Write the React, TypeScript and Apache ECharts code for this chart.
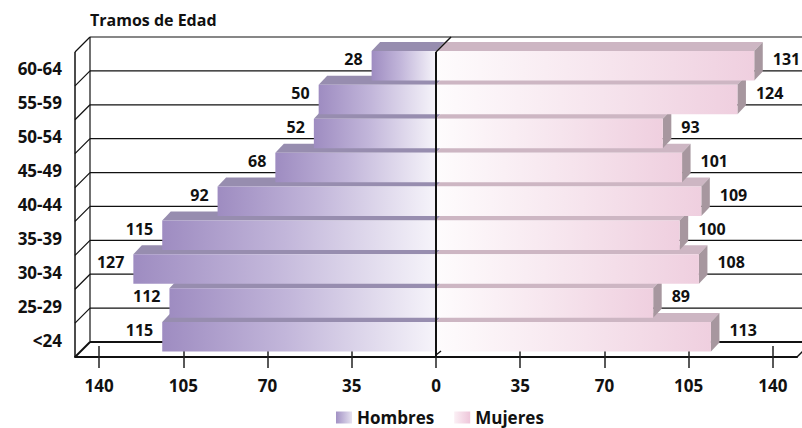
import React, { useEffect, useRef } from "react";
import * as echarts from "echarts";

const categories = ["<24", "25-29", "30-34", "35-39", "40-44", "45-49", "50-54", "55-59", "60-64"];
const hombres = [115, 112, 127, 115, 92, 68, 52, 50, 28];
const mujeres = [113, 89, 108, 100, 109, 101, 93, 124, 131];
const tickValues = [-140, -105, -70, -35, 0, 35, 70, 105, 140];
const axisMin = -150;
const axisMax = 150;

const FONT = "'Open Sans', 'DejaVu Sans', sans-serif";
const WALL = 15; // depth of chart walls (px)
const BDX = 8.5; // bar depth x
const BDY = 9; // bar depth y

function barRender(side: "m" | "f") {
  return (params: any, api: any) => {
    const idx = api.value(0);
    const v = api.value(1);
    const signed = side === "m" ? -v : v;
    const p0 = api.coord([0, idx]);
    const p1 = api.coord([signed, idx]);
    const bw = api.size([0, 1])[1];
    const cy = p0[1];
    const faceTop = cy - bw * 0.53;
    const faceBot = cy + bw * 0.34;
    const xIn = p0[0];
    const xOut = p1[0] + 3;
    const left = Math.min(xIn, xOut);
    const right = Math.max(xIn, xOut);
    const children: any[] = [];
    const frontGrad =
      side === "m"
        ? new echarts.graphic.LinearGradient(0, 0, 1, 0, [
            { offset: 0, color: "#9e8cc1" },
            { offset: 0.45, color: "#c2b6da" },
            { offset: 1, color: "#f6f4fa" },
          ])
        : new echarts.graphic.LinearGradient(0, 0, 1, 0, [
            { offset: 0, color: "#fefcfd" },
            { offset: 0.55, color: "#f6e4ed" },
            { offset: 1, color: "#efcfdf" },
          ]);
    children.push({
      type: "polygon",
      shape: {
        points: [
          [left, faceTop],
          [left + BDX, faceTop - BDY],
          [right + BDX, faceTop - BDY],
          [right, faceTop],
        ],
      },
      style: { fill: side === "m" ? "#978daf" : "#cdb6c3" },
    });
    if (side === "f") {
      children.push({
        type: "polygon",
        shape: {
          points: [
            [right, faceTop],
            [right + BDX, faceTop - BDY],
            [right + BDX, faceBot - BDY],
            [right, faceBot],
          ],
        },
        style: { fill: "#a7979f" },
      });
    }
    children.push({
      type: "rect",
      shape: { x: left, y: faceTop, width: right - left, height: faceBot - faceTop },
      style: { fill: frontGrad },
    });
    children.push({
      type: "text",
      style: {
        text: String(v),
        x: side === "m" ? xOut - 9 : xOut + BDX + 10,
        y: cy - bw * 0.29,
        align: side === "m" ? "right" : "left",
        verticalAlign: "middle",
        fill: "#111",
        fontSize: 16,
        fontWeight: "bold",
        fontFamily: FONT,
      },
    });
    return { type: "group", children };
  };
}

function frameRender(params: any, api: any) {
  const cs = params.coordSys;
  const gx = cs.x;
  const gy = cs.y;
  const gw = cs.width;
  const gh = cs.height;
  const idx = api.value(0);
  const bw = api.size([0, 1])[1];
  const cy = api.coord([0, idx])[1];
  const bandTop = cy - bw / 2;
  const bandBot = cy + bw / 2;
  const ls = { stroke: "#111", lineWidth: 1.2 };
  const children: any[] = [
    { type: "line", shape: { x1: gx + WALL, y1: bandTop - WALL, x2: gx + gw + WALL, y2: bandTop - WALL }, style: ls },
    { type: "line", shape: { x1: gx, y1: bandTop, x2: gx + WALL, y2: bandTop - WALL }, style: ls },
  ];
  if (idx === 0) {
    children.push(
      { type: "line", shape: { x1: gx + WALL, y1: bandBot - WALL, x2: gx + gw + WALL, y2: bandBot - WALL }, style: { stroke: "#111", lineWidth: 2 } },
      { type: "line", shape: { x1: gx, y1: bandBot, x2: gx + WALL, y2: bandBot - WALL }, style: { stroke: "#111", lineWidth: 2 } },
      { type: "line", shape: { x1: gx + gw, y1: bandBot, x2: gx + gw + WALL, y2: bandBot - WALL }, style: { stroke: "#111", lineWidth: 1.5 } },
      { type: "line", shape: { x1: gx, y1: gy, x2: gx, y2: gy + gh }, style: { stroke: "#111", lineWidth: 1.5 } },
      { type: "line", shape: { x1: gx + WALL, y1: gy - WALL, x2: gx + WALL, y2: gy + gh - WALL }, style: ls }
    );
  }
  return { type: "group", children };
}

function zeroRender(params: any, api: any) {
  const cs = params.coordSys;
  const x = api.coord([0, 0])[0];
  const top = cs.y;
  const bot = cs.y + cs.height;
  return {
    type: "group",
    children: [
      { type: "line", shape: { x1: x, y1: top, x2: x, y2: bot }, style: { stroke: "#111", lineWidth: 2 } },
      { type: "line", shape: { x1: x, y1: top, x2: x + WALL, y2: top - WALL }, style: { stroke: "#111", lineWidth: 1.5 } },
      { type: "line", shape: { x1: x, y1: bot - 2, x2: x + 5, y2: bot - 6 }, style: { stroke: "#111", lineWidth: 1.5 } },
    ],
  };
}

export default function App() {
  const ref = useRef<HTMLDivElement>(null);
  useEffect(() => {
    if (!ref.current) return;
    const chart = echarts.init(ref.current, null, { renderer: "svg" });
    const menData = hombres.map((v, i) => [i, v]);
    const womenData = mujeres.map((v, i) => [i, v]);
    const frameData = categories.map((_, i) => [i, 0]);
    chart.setOption({
      animation: false,
      backgroundColor: "#ffffff",
      title: {
        text: "Tramos de Edad",
        left: 90,
        top: 12,
        padding: 0,
        textStyle: { fontSize: 16, fontWeight: "bold", color: "#111", fontFamily: FONT },
      },
      legend: {
        left: 336,
        top: 409,
        padding: 0,
        itemWidth: 16,
        itemHeight: 12,
        itemGap: 20,
        icon: "rect",
        textStyle: { fontSize: 17, fontWeight: "bold", color: "#111", fontFamily: FONT },
        data: [
          {
            name: "Hombres",
            itemStyle: {
              color: new echarts.graphic.LinearGradient(0, 0, 1, 0, [
                { offset: 0, color: "#a291c4" },
                { offset: 1, color: "#e6e2f0" },
              ]),
            },
          },
          {
            name: "Mujeres",
            itemStyle: {
              color: new echarts.graphic.LinearGradient(0, 0, 1, 0, [
                { offset: 0, color: "#fbf0f5" },
                { offset: 1, color: "#eec6da" },
              ]),
            },
          },
        ],
      },
      grid: { left: 75, right: 5, top: 52, bottom: 71, containLabel: false },
      xAxis: [
        {
          type: "value",
          min: axisMin,
          max: axisMax,
          position: "bottom",
          axisLine: { show: true, lineStyle: { color: "#111", width: 2 } },
          axisTick: { show: true, customValues: tickValues, length: 11, lineStyle: { color: "#222", width: 1.5 } },
          axisLabel: {
            show: true,
            customValues: tickValues,
            margin: 20,
            formatter: (v: number) => String(Math.abs(v)),
            fontSize: 17,
            fontWeight: "bold",
            color: "#111",
            fontFamily: FONT,
          },
          splitLine: { show: false },
        },
        {
          type: "value",
          min: axisMin,
          max: axisMax,
          position: "bottom",
          axisLine: { show: false },
          axisTick: { show: true, inside: true, customValues: tickValues, length: 11, lineStyle: { color: "#222", width: 1.5 } },
          axisLabel: { show: false },
          splitLine: { show: false },
        },
      ],
      yAxis: {
        type: "category",
        data: categories,
        axisLine: { show: false },
        axisTick: { show: false },
        splitLine: { show: false },
        axisLabel: {
          margin: 13,
          fontSize: 17,
          fontWeight: "bold",
          color: "#111",
          fontFamily: FONT,
          padding: [5, 0, 0, 0],
        },
      },
      series: [
        {
          type: "custom",
          name: "frame",
          renderItem: frameRender,
          data: frameData,
          clip: false,
          silent: true,
          z: 1,
          encode: { x: 1, y: 0 },
        },
        {
          type: "custom",
          name: "Hombres",
          renderItem: barRender("m"),
          data: menData,
          clip: false,
          z: 2,
          encode: { x: 1, y: 0 },
        },
        {
          type: "custom",
          name: "Mujeres",
          renderItem: barRender("f"),
          data: womenData,
          clip: false,
          z: 2,
          encode: { x: 1, y: 0 },
        },
        {
          type: "custom",
          name: "zero",
          renderItem: zeroRender,
          data: [[0, 0]],
          clip: false,
          silent: true,
          z: 3,
          encode: { x: 1, y: 0 },
        },
      ],
    });
    return () => chart.dispose();
  }, []);
  return (
    <div
      ref={ref}
      style={{ position: "fixed", left: 0, top: 0, width: 802, height: 428, background: "#fff" }}
    />
  );
}
